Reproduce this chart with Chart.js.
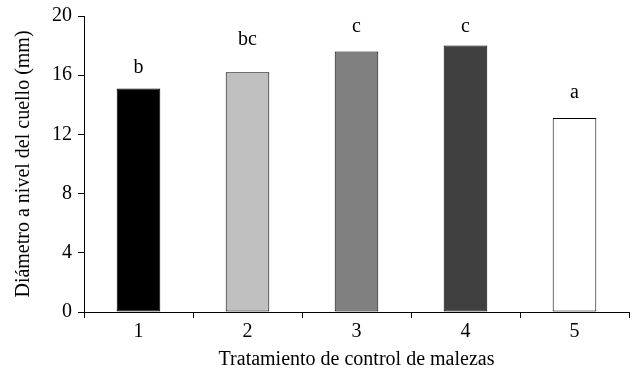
<!DOCTYPE html>
<html>
<head>
<meta charset="utf-8">
<script src="https://cdn.jsdelivr.net/npm/chart.js@4/dist/chart.umd.min.js"></script>
<style>
  html, body { margin: 0; padding: 0; background: #fff; }
  #wrap { width: 632px; height: 372px; }
</style>
</head>
<body>
<div id="wrap"><canvas id="chart"></canvas></div>
<script>
const categories = ["1", "2", "3", "4", "5"];
const diameters = [15.1, 16.2, 17.6, 18.0, 13.1];
const letters = ["b", "bc", "c", "c", "a"];
// height (in axis units) where each significance letter sits
const letterHeights = [16.5, 18.4, 19.3, 19.3, 14.8];
const barColors = ["#000000", "#c0c0c0", "#808080", "#404040", "#ffffff"];
const yTicks = [0, 4, 8, 12, 16, 20];

const serif = "'Liberation Serif', 'Times New Roman', serif";
const fontSize = 20;

const letterPlugin = {
  id: "letters",
  afterDatasetsDraw(chart) {
    const ctx = chart.ctx;
    const x = chart.scales.x;
    const y = chart.scales.y;
    ctx.save();
    ctx.font = fontSize + "px " + serif;
    ctx.fillStyle = "#000";
    ctx.textAlign = "center";
    ctx.textBaseline = "middle";
    letters.forEach((l, i) => {
      ctx.fillText(l, x.getPixelForValue(i), y.getPixelForValue(letterHeights[i]));
    });
    ctx.restore();
  }
};

new Chart(document.getElementById("chart").getContext("2d"), {
  type: "bar",
  data: {
    labels: categories,
    datasets: [
      {
        data: diameters,
        backgroundColor: barColors,
        borderColor: "#000",
        borderWidth: 1,
        borderSkipped: false,
        barPercentage: 0.4,
        categoryPercentage: 1.0,
      },
    ],
  },
  options: {
    responsive: true,
    maintainAspectRatio: false,
    animation: false,
    devicePixelRatio: 1,
    layout: { padding: { top: 4, right: 3, left: 12, bottom: 0 } },
    plugins: {
      legend: { display: false },
      tooltip: { enabled: false },
    },
    scales: {
      x: {
        grid: {
          offset: true,
          drawOnChartArea: false,
          tickLength: 6,
          color: "#000",
        },
        border: { color: "#000", width: 1 },
        ticks: { color: "#000", font: { family: serif, size: fontSize }, padding: 2 },
        title: {
          display: true,
          text: "Tratamiento de control de malezas",
          color: "#000",
          font: { family: serif, size: fontSize },
          padding: { top: 2, bottom: 0 },
        },
      },
      y: {
        min: 0,
        max: 20,
        afterBuildTicks(axis) {
          axis.ticks = yTicks.map((v) => ({ value: v }));
        },
        grid: {
          drawOnChartArea: false,
          tickLength: 6,
          color: "#000",
        },
        border: { color: "#000", width: 1 },
        ticks: { color: "#000", font: { family: serif, size: fontSize, lineHeight: 1.0 }, padding: 6 },
        title: {
          display: true,
          text: "Diámetro a nivel del cuello (mm)",
          color: "#000",
          font: { family: serif, size: fontSize },
          padding: { top: 0, bottom: 10 },
        },
      },
    },
  },
  plugins: [letterPlugin],
});
</script>
</body>
</html>
